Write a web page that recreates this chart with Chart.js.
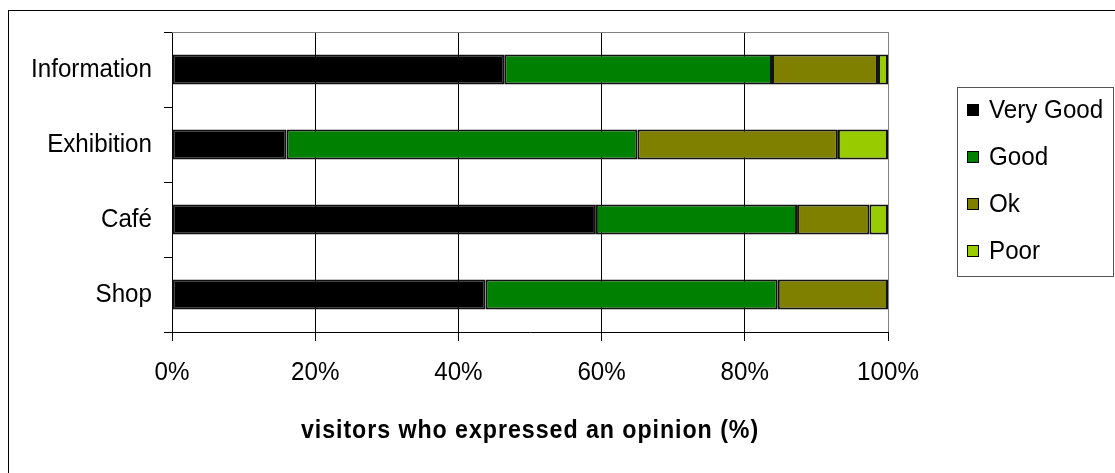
<!DOCTYPE html>
<html>
<head>
<meta charset="utf-8">
<script src="https://cdn.jsdelivr.net/npm/chart.js@4"></script>
<style>
  html, body { margin: 0; padding: 0; background: #ffffff; }
  #wrap { width: 1115px; height: 473px; position: relative; }
</style>
</head>
<body>
<div id="wrap"><canvas id="chart"></canvas></div>
<script>
// Visitor opinion survey, share of each rating per area (%)
const categories = ['Information', 'Exhibition', 'Café', 'Shop'];
const seriesNames = ['Very Good', 'Good', 'Ok', 'Poor'];
const veryGood = [46.4, 16.0, 59.2, 43.8];
const good     = [37.4, 49.0, 28.1, 40.8];
const ok       = [14.8, 28.0, 10.1, 15.4];
const poor     = [ 1.4,  7.0,  2.6,  0.0];
const xTicks   = [0, 20, 40, 60, 80, 100];
const axisTitle = 'visitors who expressed an opinion (%)';

const seriesColors = ['#000000', '#008000', '#808000', '#99CC00'];
const FONT = "'Liberation Sans', Arial, sans-serif";
const TEXT_SQUEEZE = 0.93;   // slightly condensed lettering

const datasets = [veryGood, good, ok, poor].map((vals, i) => ({
  label: seriesNames[i],
  data: vals,
  backgroundColor: seriesColors[i],
  borderColor: '#111111',
  borderWidth: 2,
  borderSkipped: false,
  categoryPercentage: 1.0,
  barPercentage: 0.4
}));

// Draw all chart text slightly condensed; bold text gets a little tracking
const condensedText = {
  id: 'condensedText',
  beforeInit(chart) {
    const ctx = chart.ctx;
    if (ctx.__condensed) return;
    const orig = ctx.fillText.bind(ctx);
    ctx.fillText = function (text, x, y, maxWidth) {
      ctx.save();
      if (/bold/.test(ctx.font) && 'letterSpacing' in ctx) ctx.letterSpacing = '1px';
      ctx.translate(x, y);
      ctx.scale(TEXT_SQUEEZE, 1);
      if (maxWidth !== undefined) orig(text, 0, 0, maxWidth / TEXT_SQUEEZE);
      else orig(text, 0, 0);
      ctx.restore();
    };
    ctx.__condensed = true;
  }
};

// Frame, plot-area top edge and the boxed legend on the right
const decorations = {
  id: 'decorations',
  beforeDatasetsDraw(chart) {
    const { ctx, chartArea: a } = chart;
    ctx.save();
    ctx.strokeStyle = '#808080';
    ctx.lineWidth = 1;
    ctx.beginPath();
    ctx.moveTo(a.left, Math.round(a.top) + 0.5);
    ctx.lineTo(a.right, Math.round(a.top) + 0.5);
    ctx.stroke();
    ctx.restore();
  },
  afterDraw(chart) {
    const { ctx } = chart;
    ctx.save();
    // outer frame
    ctx.strokeStyle = '#000000';
    ctx.lineWidth = 1;
    ctx.strokeRect(8.5, 10.5, 1200, 600);
    // legend box
    ctx.strokeStyle = '#555555';
    ctx.strokeRect(957.5, 87.5, 156, 189);
    ctx.font = '26px ' + FONT;
    ctx.textBaseline = 'middle';
    ctx.textAlign = 'left';
    chart.data.datasets.forEach((ds, i) => {
      const cy = 110 + 47 * i;
      ctx.fillStyle = ds.backgroundColor;
      ctx.fillRect(967, cy - 6, 12, 12);
      ctx.strokeStyle = '#000000';
      ctx.strokeRect(967.5, cy - 5.5, 11, 11);
      ctx.fillStyle = '#000000';
      ctx.fillText(ds.label, 989, cy + 1);
    });
    ctx.restore();
  }
};

new Chart(document.getElementById('chart'), {
  type: 'bar',
  data: { labels: categories, datasets },
  plugins: [condensedText, decorations],
  options: {
    indexAxis: 'y',
    responsive: true,
    maintainAspectRatio: false,
    animation: false,
    layout: { padding: { left: 0, top: 32, right: 227, bottom: 0 } },
    plugins: {
      legend: { display: false },
      tooltip: { enabled: false }
    },
    scales: {
      x: {
        stacked: true,
        min: 0,
        max: 100,
        afterBuildTicks(scale) { scale.ticks = xTicks.map(v => ({ value: v })); },
        afterFit(scale) { scale.height = 141; },
        ticks: {
          color: '#000000',
          font: { family: FONT, size: 26 },
          padding: 16,
          maxRotation: 0,
          callback: v => v + '%'
        },
        grid: {
          color: ctx => (ctx.tick && ctx.tick.value === 100) ? '#808080' : '#000000',
          tickColor: '#000000',
          tickLength: 9,
          lineWidth: 1
        },
        border: { color: '#000000', width: 1 },
        title: {
          display: true,
          text: axisTitle,
          color: '#000000',
          font: { family: FONT, size: 25, weight: 'bold' },
          padding: { top: 0, bottom: 27 }
        }
      },
      y: {
        stacked: true,
        offset: true,
        afterFit(scale) { scale.width = 172; },
        ticks: {
          color: '#000000',
          font: { family: FONT, size: 26 },
          padding: 12
        },
        grid: {
          offset: true,
          drawOnChartArea: false,
          drawTicks: true,
          tickLength: 8,
          tickColor: '#000000'
        },
        border: { color: '#000000', width: 1 }
      }
    }
  }
});
</script>
</body>
</html>
